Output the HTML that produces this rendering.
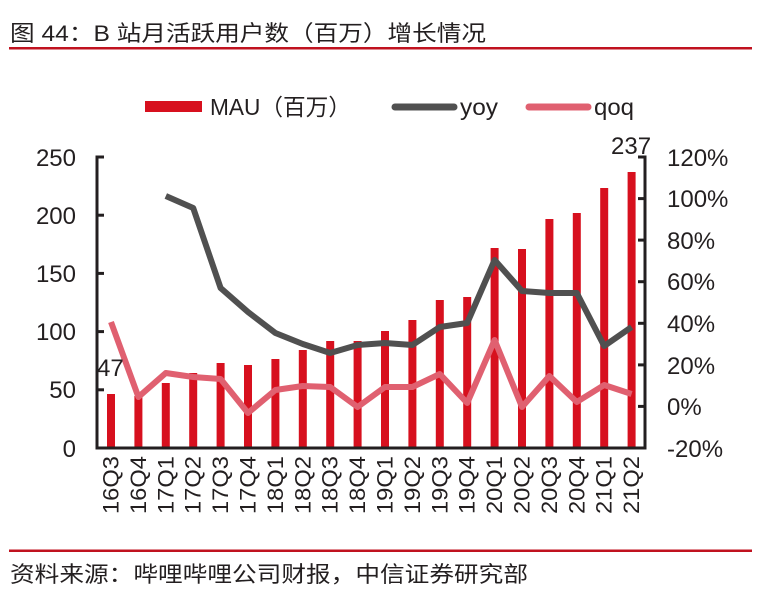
<!DOCTYPE html>
<html><head><meta charset="utf-8"><style>
html,body{margin:0;padding:0;background:#fff;}
svg{display:block;font-family:"Liberation Sans","Noto Sans CJK SC",sans-serif;}
</style></head><body>
<svg width="760" height="614" viewBox="0 0 760 614" xmlns="http://www.w3.org/2000/svg">
<text x="10" y="41" font-size="22" fill="#231f20" textLength="476" lengthAdjust="spacingAndGlyphs">图 44：B 站月活跃用户数（百万）增长情况</text>
<rect x="9" y="47" width="743" height="2.5" fill="#c0121f"/>
<rect x="9" y="549.5" width="743" height="2.5" fill="#c0121f"/>
<text x="10" y="582" font-size="22" fill="#231f20" textLength="518" lengthAdjust="spacingAndGlyphs">资料来源：哔哩哔哩公司财报，中信证券研究部</text>
<!-- legend -->
<rect x="145" y="101" width="57" height="11" fill="#d7101e"/>
<text x="210" y="115" font-size="23" fill="#231f20" textLength="141" lengthAdjust="spacingAndGlyphs">MAU（百万）</text>
<line x1="395" y1="107" x2="454" y2="107" stroke="#505050" stroke-width="7" stroke-linecap="round"/>
<text x="460" y="115" font-size="23" fill="#231f20" textLength="38" lengthAdjust="spacingAndGlyphs">yoy</text>
<line x1="529" y1="107" x2="588" y2="107" stroke="#e06070" stroke-width="7" stroke-linecap="round"/>
<text x="594" y="115" font-size="23" fill="#231f20" textLength="40" lengthAdjust="spacingAndGlyphs">qoq</text>
<!-- bars -->
<g fill="#d7101e">
<rect x="107" y="394" width="8" height="54"/>
<rect x="134.4" y="396" width="8" height="52"/>
<rect x="161.8" y="383" width="8" height="65"/>
<rect x="189.2" y="373" width="8" height="75"/>
<rect x="216.6" y="363" width="8" height="85"/>
<rect x="244" y="365" width="8" height="83"/>
<rect x="271.4" y="359" width="8" height="89"/>
<rect x="298.8" y="350" width="8" height="98"/>
<rect x="326.2" y="341" width="8" height="107"/>
<rect x="353.6" y="341" width="8" height="107"/>
<rect x="381" y="331" width="8" height="117"/>
<rect x="408.4" y="320" width="8" height="128"/>
<rect x="435.8" y="300" width="8" height="148"/>
<rect x="463.2" y="297" width="8" height="151"/>
<rect x="490.6" y="248" width="8" height="200"/>
<rect x="518" y="249" width="8" height="199"/>
<rect x="545.4" y="219" width="8" height="229"/>
<rect x="572.8" y="213" width="8" height="235"/>
<rect x="600.2" y="188" width="8" height="260"/>
<rect x="627.6" y="172" width="8" height="276"/>
</g>
<!-- lines -->
<polyline fill="none" stroke="#505050" stroke-width="6" stroke-linejoin="round" points="165.8,196 193.2,208 220.6,288 248,312 275.4,333 302.8,344 330.2,353 357.6,345 385,343 412.4,345 439.8,327 467.2,323 494.6,260 522,291 549.4,293 576.8,293 604.2,346 631.6,327"/>
<polyline fill="none" stroke="#e06070" stroke-width="6" stroke-linejoin="round" points="111,322 138.4,397 165.8,373 193.2,377 220.6,379 248,413 275.4,390 302.8,386 330.2,387 357.6,407 385,387 412.4,387 439.8,374 467.2,403 494.6,340 522,407 549.4,376 576.8,402 604.2,385 631.6,394"/>
<!-- axes -->
<g stroke="#231f20" stroke-width="3" fill="none">
<polyline points="104,157 97,157 97,448 645,448 645,157 638,157"/>
<line x1="97" y1="215.2" x2="104" y2="215.2"/>
<line x1="97" y1="273.4" x2="104" y2="273.4"/>
<line x1="97" y1="331.6" x2="104" y2="331.6"/>
<line x1="97" y1="389.8" x2="104" y2="389.8"/>
<line x1="645" y1="198.6" x2="638" y2="198.6"/>
<line x1="645" y1="240.1" x2="638" y2="240.1"/>
<line x1="645" y1="281.7" x2="638" y2="281.7"/>
<line x1="645" y1="323.3" x2="638" y2="323.3"/>
<line x1="645" y1="364.9" x2="638" y2="364.9"/>
<line x1="645" y1="406.4" x2="638" y2="406.4"/>
</g>
<g font-size="24" fill="#231f20" text-anchor="end">
<text x="76" y="166">250</text>
<text x="76" y="224">200</text>
<text x="76" y="282">150</text>
<text x="76" y="340">100</text>
<text x="76" y="398">50</text>
<text x="76" y="457">0</text>
</g>
<g font-size="24" fill="#231f20" text-anchor="start">
<text x="667" y="166">120%</text>
<text x="667" y="207">100%</text>
<text x="667" y="249">80%</text>
<text x="667" y="290">60%</text>
<text x="667" y="332">40%</text>
<text x="667" y="374">20%</text>
<text x="667" y="415">0%</text>
<text x="667" y="457">-20%</text>
</g>
<text x="97" y="376" font-size="24" fill="#231f20">47</text>
<text x="611" y="154" font-size="24" fill="#231f20">237</text>
<g font-size="22" fill="#231f20" text-anchor="end">
<text transform="translate(118.5,456) rotate(-90)" textLength="58" lengthAdjust="spacingAndGlyphs">16Q3</text>
<text transform="translate(145.9,456) rotate(-90)" textLength="58" lengthAdjust="spacingAndGlyphs">16Q4</text>
<text transform="translate(173.3,456) rotate(-90)" textLength="58" lengthAdjust="spacingAndGlyphs">17Q1</text>
<text transform="translate(200.7,456) rotate(-90)" textLength="58" lengthAdjust="spacingAndGlyphs">17Q2</text>
<text transform="translate(228.1,456) rotate(-90)" textLength="58" lengthAdjust="spacingAndGlyphs">17Q3</text>
<text transform="translate(255.5,456) rotate(-90)" textLength="58" lengthAdjust="spacingAndGlyphs">17Q4</text>
<text transform="translate(282.9,456) rotate(-90)" textLength="58" lengthAdjust="spacingAndGlyphs">18Q1</text>
<text transform="translate(310.3,456) rotate(-90)" textLength="58" lengthAdjust="spacingAndGlyphs">18Q2</text>
<text transform="translate(337.7,456) rotate(-90)" textLength="58" lengthAdjust="spacingAndGlyphs">18Q3</text>
<text transform="translate(365.1,456) rotate(-90)" textLength="58" lengthAdjust="spacingAndGlyphs">18Q4</text>
<text transform="translate(392.5,456) rotate(-90)" textLength="58" lengthAdjust="spacingAndGlyphs">19Q1</text>
<text transform="translate(419.9,456) rotate(-90)" textLength="58" lengthAdjust="spacingAndGlyphs">19Q2</text>
<text transform="translate(447.3,456) rotate(-90)" textLength="58" lengthAdjust="spacingAndGlyphs">19Q3</text>
<text transform="translate(474.7,456) rotate(-90)" textLength="58" lengthAdjust="spacingAndGlyphs">19Q4</text>
<text transform="translate(502.1,456) rotate(-90)" textLength="58" lengthAdjust="spacingAndGlyphs">20Q1</text>
<text transform="translate(529.5,456) rotate(-90)" textLength="58" lengthAdjust="spacingAndGlyphs">20Q2</text>
<text transform="translate(556.9,456) rotate(-90)" textLength="58" lengthAdjust="spacingAndGlyphs">20Q3</text>
<text transform="translate(584.3,456) rotate(-90)" textLength="58" lengthAdjust="spacingAndGlyphs">20Q4</text>
<text transform="translate(611.7,456) rotate(-90)" textLength="58" lengthAdjust="spacingAndGlyphs">21Q1</text>
<text transform="translate(639.1,456) rotate(-90)" textLength="58" lengthAdjust="spacingAndGlyphs">21Q2</text>
</g>
</svg>
</body></html>
